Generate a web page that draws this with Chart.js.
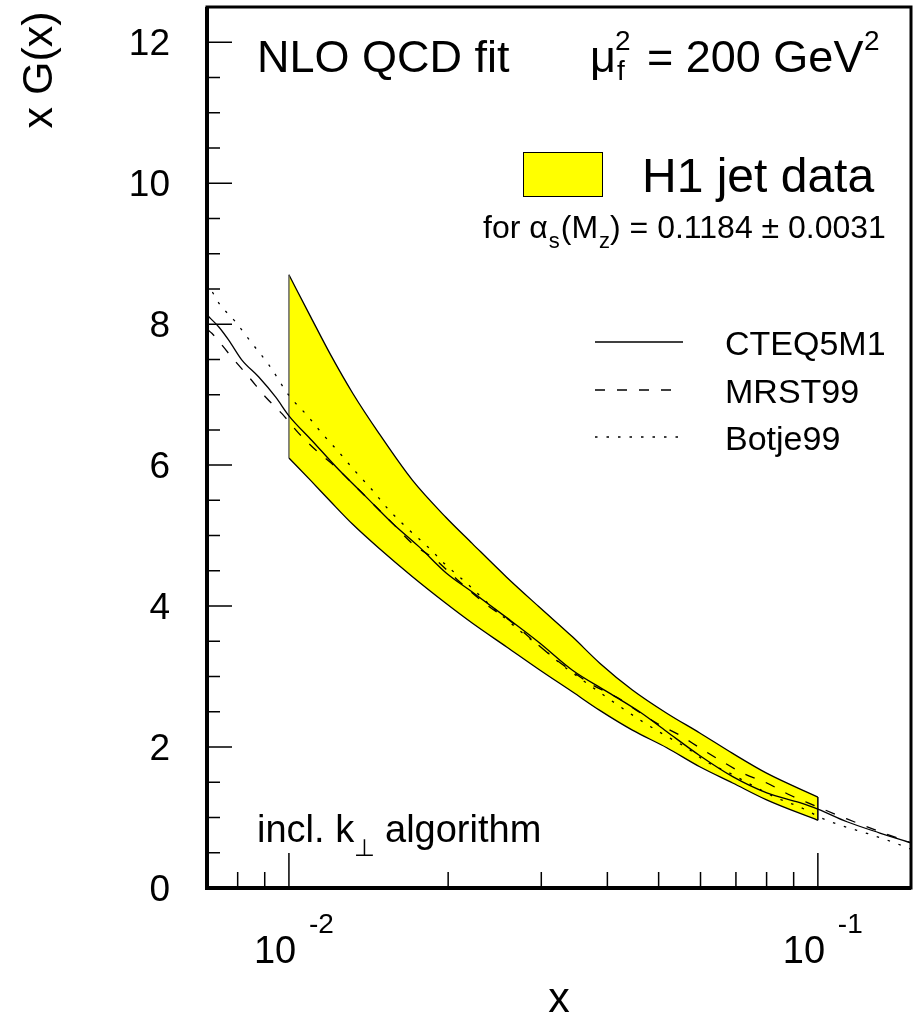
<!DOCTYPE html>
<html>
<head>
<meta charset="utf-8">
<script src="https://cdn.jsdelivr.net/npm/chart.js@4.4.0/dist/chart.umd.min.js"></script>
<style>
  html, body { margin: 0; padding: 0; background: #fff; }
</style>
</head>
<body>
<canvas id="gluon" width="916" height="1016"></canvas>
<script>
// H1 jet data band (x, upper and lower edge)
const bandX  = [0.01, 0.011, 0.012, 0.0132, 0.0148, 0.0171, 0.0198, 0.0222, 0.0258, 0.0297, 0.0344, 0.0387, 0.0446, 0.0518, 0.0598, 0.069, 0.080, 0.1];
const bandHi = [8.70, 8.10, 7.56, 7.02, 6.45, 5.79, 5.26, 4.89, 4.41, 3.99, 3.56, 3.19, 2.81, 2.48, 2.20, 1.91, 1.63, 1.29];
const bandLo = [6.10, 5.78, 5.48, 5.16, 4.82, 4.42, 4.04, 3.76, 3.42, 3.10, 2.78, 2.52, 2.24, 1.99, 1.72, 1.49, 1.25, 0.96];

// parton density curves
const cteqX = [0.007, 0.00737, 0.0077, 0.00815, 0.00877, 0.00945, 0.01, 0.01105, 0.01244, 0.01399, 0.01567, 0.01763, 0.01983, 0.02221, 0.02576, 0.02975, 0.03436, 0.03986, 0.04602, 0.05176, 0.05976, 0.06902, 0.08006, 0.09245, 0.1, 0.1135, 0.131, 0.15];
const cteqY = [8.13, 7.96, 7.77, 7.49, 7.25, 6.96, 6.70, 6.35, 5.93, 5.55, 5.18, 4.84, 4.47, 4.20, 3.84, 3.48, 3.09, 2.79, 2.50, 2.22, 1.88, 1.58, 1.35, 1.21, 1.12, 0.94, 0.78, 0.64];

const mrstX = [0.007, 0.00715, 0.0078, 0.0084, 0.00905, 0.0097, 0.01044, 0.01125, 0.01227, 0.01339, 0.01567, 0.0171, 0.01898, 0.02035, 0.02392, 0.0261, 0.02885, 0.0315, 0.03436, 0.0375, 0.04162, 0.04543, 0.04955, 0.05476, 0.05976, 0.06609, 0.07211, 0.08006, 0.0885, 0.0978, 0.1135, 0.131, 0.15];
const mrstY = [7.93, 7.87, 7.53, 7.25, 6.96, 6.73, 6.45, 6.21, 5.97, 5.69, 5.18, 4.89, 4.65, 4.44, 3.99, 3.80, 3.52, 3.28, 3.07, 2.88, 2.71, 2.52, 2.34, 2.17, 1.99, 1.79, 1.63, 1.49, 1.32, 1.18, 0.98, 0.80, 0.64];

const botjeX = [0.007, 0.00737, 0.00793, 0.00851, 0.00917, 0.01, 0.01081, 0.01155, 0.01244, 0.01339, 0.01436, 0.01547, 0.01688, 0.01842, 0.01983, 0.02164, 0.0234, 0.02762, 0.03015, 0.03289, 0.03589, 0.04662, 0.05131, 0.05647, 0.06164, 0.06813, 0.07499, 0.08289, 0.09166, 0.09656, 0.1004, 0.1115, 0.1244, 0.1387, 0.15];
const botjeY = [8.60, 8.30, 8.03, 7.73, 7.42, 6.99, 6.71, 6.45, 6.18, 5.90, 5.65, 5.36, 5.08, 4.82, 4.58, 4.33, 4.09, 3.62, 3.40, 3.16, 2.95, 2.36, 2.17, 1.99, 1.79, 1.63, 1.46, 1.29, 1.16, 1.08, 1.01, 0.88, 0.77, 0.65, 0.55];

const legendNames = ['CTEQ5M1', 'MRST99', 'Botje99'];

// axis ticks
const yMajor = [0, 2, 4, 6, 8, 10, 12];
const yLabels = ['0', '2', '4', '6', '8', '10', '12'];
const yMinor = [0.5, 1, 1.5, 2.5, 3, 3.5, 4.5, 5, 5.5, 6.5, 7, 7.5, 8.5, 9, 9.5, 10.5, 11, 11.5];
const xMajor = [0.01, 0.1];
const xExp = ['-2', '-1'];
const xMinor = [0.008, 0.009, 0.02, 0.03, 0.04, 0.05, 0.06, 0.07, 0.08, 0.09];

const FONT = '"Liberation Sans", Arial, "DejaVu Sans", sans-serif';

function pts(xs, ys) {
    return xs.map((x, i) => ({x: x, y: ys[i]}));
}

// vertical ends of the band
const last = bandX.length - 1;
const bandLeft  = [{x: bandX[0], y: bandLo[0]}, {x: bandX[0], y: bandHi[0]}];
const bandRight = [{x: bandX[last], y: bandLo[last]}, {x: bandX[last], y: bandHi[last]}];

function txt(ctx, s, x, y, size, align) {
    ctx.font = size + 'px ' + FONT;
    ctx.textAlign = align || 'left';
    ctx.textBaseline = 'alphabetic';
    ctx.fillText(s, x, y);
    return ctx.measureText(s).width;
}

const framePlugin = {
    id: 'frame',
    afterDatasetsDraw(chart) {
        const ctx = chart.ctx;
        const a = chart.chartArea;
        const xs = chart.scales.x, ys = chart.scales.y;
        ctx.save();
        ctx.strokeStyle = '#000';
        // ticks, inside the frame
        ctx.lineWidth = 1.5;
        ctx.beginPath();
        yMajor.forEach(v => { const p = ys.getPixelForValue(v); ctx.moveTo(a.left, p); ctx.lineTo(a.left + 25, p); });
        yMinor.forEach(v => { const p = ys.getPixelForValue(v); ctx.moveTo(a.left, p); ctx.lineTo(a.left + 13, p); });
        xMajor.forEach(v => { const p = xs.getPixelForValue(v); ctx.moveTo(p, a.bottom); ctx.lineTo(p, a.bottom - 35); });
        xMinor.forEach(v => { const p = xs.getPixelForValue(v); ctx.moveTo(p, a.bottom); ctx.lineTo(p, a.bottom - 16); });
        ctx.stroke();
        // frame
        ctx.lineWidth = 3;
        ctx.strokeRect(a.left, a.top, a.right - a.left, a.bottom - a.top);
        ctx.lineWidth = 4;
        ctx.beginPath();
        ctx.moveTo(a.left, a.top);
        ctx.lineTo(a.left, a.bottom);
        ctx.lineTo(a.right, a.bottom);
        ctx.stroke();
        ctx.restore();
    },
    afterDraw(chart) {
        const ctx = chart.ctx;
        const xs = chart.scales.x, ys = chart.scales.y;
        ctx.save();
        ctx.fillStyle = '#000';

        // tick labels
        yMajor.forEach((v, i) => txt(ctx, yLabels[i], 170, ys.getPixelForValue(v) + 13, 37, 'right'));
        xMajor.forEach((v, i) => {
            const p = xs.getPixelForValue(v);
            txt(ctx, '10', p - 35, 963, 38);
            txt(ctx, xExp[i], p + 20, 933, 28);
        });

        // axis titles
        txt(ctx, 'x', 559, 1012, 43, 'center');
        ctx.save();
        ctx.translate(52, 70);
        ctx.rotate(-Math.PI / 2);
        txt(ctx, 'x G(x)', 0, 0, 43, 'center');
        ctx.restore();

        // header
        txt(ctx, 'NLO QCD fit', 257, 72, 45);
        txt(ctx, '\u03bc', 590, 72, 45);
        txt(ctx, '2', 615, 50, 28);
        txt(ctx, 'f', 617, 80, 28);
        txt(ctx, '= 200 GeV', 647, 72, 45);
        txt(ctx, '2', 864, 50, 28);

        // band legend
        ctx.fillStyle = '#ffff00';
        ctx.fillRect(523, 152, 79, 44);
        ctx.strokeStyle = '#000';
        ctx.lineWidth = 1;
        ctx.strokeRect(523.5, 152.5, 79, 44);
        ctx.fillStyle = '#000';
        txt(ctx, 'H1 jet data', 642, 192, 48);

        let x = 483;
        x += txt(ctx, 'for \u03b1', x, 238, 32);
        x += txt(ctx, 's', x + 1, 248, 22) + 2;
        x += txt(ctx, '(M', x, 238, 32);
        x += txt(ctx, 'z', x + 1, 248, 22) + 1;
        txt(ctx, ') = 0.1184 \u00b1 0.0031', x, 238, 32);

        // curve legend
        const rows = [342, 390, 437];
        chart.data.datasets.slice(0, 3).forEach((ds, i) => {
            ctx.save();
            ctx.strokeStyle = ds.borderColor;
            ctx.lineWidth = 1.6;
            ctx.setLineDash(ds.borderDash || []);
            ctx.beginPath();
            ctx.moveTo(595, rows[i]);
            ctx.lineTo(683, rows[i]);
            ctx.stroke();
            ctx.restore();
            txt(ctx, legendNames[i], 725, rows[i] + 13, 34);
        });

        // algorithm note
        txt(ctx, 'incl. k', 257, 842, 38);
        txt(ctx, '\u22a5', 354, 856, 24);
        txt(ctx, 'algorithm', 385, 842, 38);

        ctx.restore();
    }
};

const curve = { borderColor: '#000', borderWidth: 1.3, pointRadius: 0, fill: false, cubicInterpolationMode: 'monotone' };

new Chart(document.getElementById('gluon'), {
    type: 'line',
    data: {
        datasets: [
            Object.assign({ label: legendNames[0], data: pts(cteqX, cteqY) }, curve),
            Object.assign({ label: legendNames[1], data: pts(mrstX, mrstY), borderDash: [10, 12] }, curve),
            Object.assign({ label: legendNames[2], data: pts(botjeX, botjeY), borderDash: [2.5, 9] }, curve),
            { label: 'band left', data: bandLeft, borderColor: '#666', borderWidth: 1.5, pointRadius: 0, fill: false },
            { label: 'band right', data: bandRight, borderColor: '#000', borderWidth: 1.5, pointRadius: 0, fill: false },
            { label: 'H1 jet data', data: pts(bandX, bandHi), borderColor: '#000', borderWidth: 1.3, backgroundColor: '#ffff00', pointRadius: 0, fill: '+1', cubicInterpolationMode: 'monotone' },
            { label: 'band low', data: pts(bandX, bandLo), borderColor: '#000', borderWidth: 1.3, pointRadius: 0, fill: false, cubicInterpolationMode: 'monotone' }
        ]
    },
    options: {
        responsive: false,
        animation: false,
        events: [],
        layout: { padding: { left: 207, right: 5, top: 7, bottom: 128 } },
        plugins: {
            legend: { display: false },
            tooltip: { enabled: false },
            filler: { drawTime: 'beforeDatasetsDraw' }
        },
        scales: {
            x: { type: 'logarithmic', min: 0.007, max: 0.15, display: false },
            y: { type: 'linear', min: 0, max: 12.5, display: false }
        }
    },
    plugins: [framePlugin]
});
</script>
</body>
</html>
